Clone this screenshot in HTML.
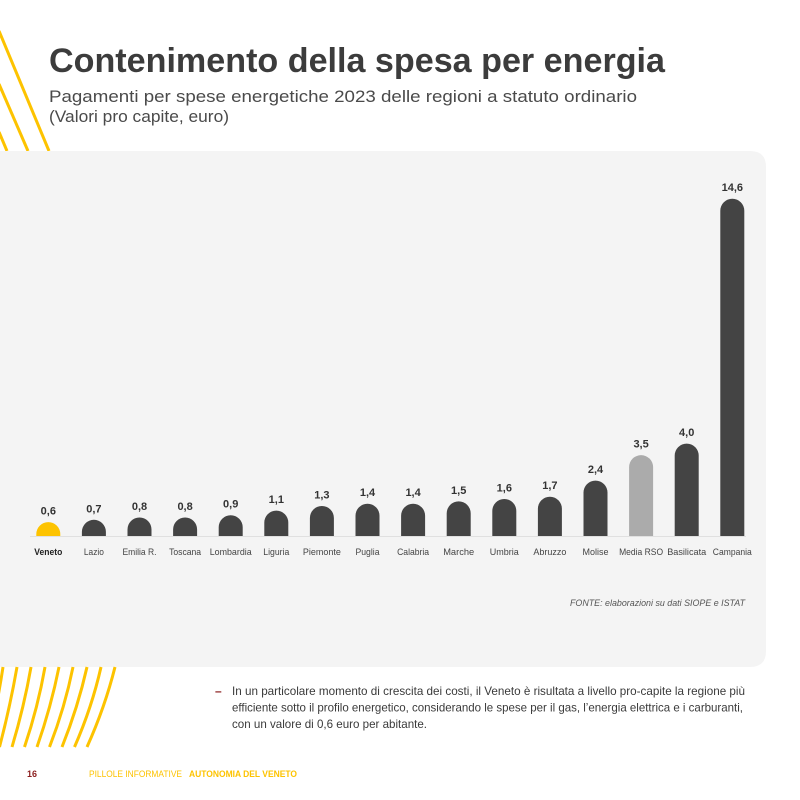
<!DOCTYPE html>
<html><head><meta charset="utf-8">
<style>
html,body{margin:0;padding:0;background:#fff;}
svg{display:block;}
text{font-family:"Liberation Sans",sans-serif;}
</style></head>
<body>
<svg width="800" height="800" viewBox="0 0 800 800" xmlns="http://www.w3.org/2000/svg">
<rect width="800" height="800" fill="#fff"/>
<!-- top-left stripes -->
<g stroke="#FDC300" stroke-width="3" fill="none">
<line x1="-1" y1="31" x2="49" y2="151"/>
<line x1="-1" y1="84" x2="28" y2="151"/>
<line x1="-1" y1="132" x2="7" y2="151"/>
</g>
<!-- panel -->
<path d="M0,151 H750 Q766,151 766,167 V651 Q766,667 750,667 H0 Z" fill="#F4F4F4"/>
<!-- bottom-left stripes -->
<g stroke="#FDC300" stroke-width="3" fill="none">
<path d="M3,667 Q-3,707 -13,747"/>
<path d="M17,667 Q10,707 -0.5,747"/>
<path d="M31,667 Q24,707 12,747"/>
<path d="M45,667 Q38,707 24.5,747"/>
<path d="M59,667 Q51,707 37,747"/>
<path d="M73,667 Q65,707 49.5,747"/>
<path d="M87,667 Q78,707 62,747"/>
<path d="M101,667 Q92,707 74.5,747"/>
<path d="M115,667 Q105,707 87,747"/>
</g>
<!-- title -->
<text x="49" y="72" font-size="34" font-weight="bold" fill="#3C3C3C" textLength="616" lengthAdjust="spacingAndGlyphs">Contenimento della spesa per energia</text>
<text x="49" y="102" font-size="17" fill="#4A4A4A" textLength="588" lengthAdjust="spacingAndGlyphs">Pagamenti per spese energetiche 2023 delle regioni a statuto ordinario</text>
<text x="49" y="122" font-size="17" fill="#4A4A4A" textLength="180" lengthAdjust="spacingAndGlyphs">(Valori pro capite, euro)</text>
<!-- axis -->
<line x1="30" y1="536.5" x2="746" y2="536.5" stroke="#E0E0E0" stroke-width="1"/>
<!-- bars -->
<g fill="#444444">
<path d="M36.3,536 V534.1 A12,12 0 0 1 60.3,534.1 V536 Z" fill="#FDC300"/>
<path d="M81.9,536 V531.8 A12,12 0 0 1 105.9,531.8 V536 Z"/>
<path d="M127.5,536 V529.5 A12,12 0 0 1 151.5,529.5 V536 Z"/>
<path d="M173.1,536 V529.5 A12,12 0 0 1 197.1,529.5 V536 Z"/>
<path d="M218.7,536 V527.2 A12,12 0 0 1 242.7,527.2 V536 Z"/>
<path d="M264.3,536 V522.6 A12,12 0 0 1 288.3,522.6 V536 Z"/>
<path d="M309.9,536 V518 A12,12 0 0 1 333.9,518 V536 Z"/>
<path d="M355.5,536 V515.7 A12,12 0 0 1 379.5,515.7 V536 Z"/>
<path d="M401.1,536 V515.7 A12,12 0 0 1 425.1,515.7 V536 Z"/>
<path d="M446.7,536 V513.35 A12,12 0 0 1 470.7,513.35 V536 Z"/>
<path d="M492.3,536 V511 A12,12 0 0 1 516.3,511 V536 Z"/>
<path d="M537.9,536 V508.7 A12,12 0 0 1 561.9,508.7 V536 Z"/>
<path d="M583.5,536 V492.6 A12,12 0 0 1 607.5,492.6 V536 Z"/>
<path d="M629.1,536 V467.15 A12,12 0 0 1 653.1,467.15 V536 Z" fill="#ABABAB"/>
<path d="M674.7,536 V455.6 A12,12 0 0 1 698.7,455.6 V536 Z"/>
<path d="M720.3,536 V210.7 A12,12 0 0 1 744.3,210.7 V536 Z"/>
</g>
<!-- value labels -->
<g font-size="11" font-weight="bold" fill="#333" text-anchor="middle">
<text x="48.3" y="514.6">0,6</text>
<text x="93.9" y="512.3">0,7</text>
<text x="139.5" y="510">0,8</text>
<text x="185.1" y="510">0,8</text>
<text x="230.7" y="507.7">0,9</text>
<text x="276.3" y="503.1">1,1</text>
<text x="321.9" y="498.5">1,3</text>
<text x="367.5" y="496.2">1,4</text>
<text x="413.1" y="496.2">1,4</text>
<text x="458.7" y="493.85">1,5</text>
<text x="504.3" y="491.5">1,6</text>
<text x="549.9" y="489.2">1,7</text>
<text x="595.5" y="473.1">2,4</text>
<text x="641.1" y="447.65">3,5</text>
<text x="686.7" y="436.1">4,0</text>
<text x="732.3" y="191.2">14,6</text>
</g>
<!-- category labels -->
<g font-size="9.5" fill="#444" text-anchor="middle">
<text x="48.3" y="555" font-weight="bold" fill="#222" textLength="28" lengthAdjust="spacingAndGlyphs">Veneto</text>
<text x="93.9" y="555" textLength="20" lengthAdjust="spacingAndGlyphs">Lazio</text>
<text x="139.5" y="555" textLength="34" lengthAdjust="spacingAndGlyphs">Emilia R.</text>
<text x="185.1" y="555" textLength="32" lengthAdjust="spacingAndGlyphs">Toscana</text>
<text x="230.7" y="555" textLength="42" lengthAdjust="spacingAndGlyphs">Lombardia</text>
<text x="276.3" y="555" textLength="26" lengthAdjust="spacingAndGlyphs">Liguria</text>
<text x="321.9" y="555" textLength="38" lengthAdjust="spacingAndGlyphs">Piemonte</text>
<text x="367.5" y="555" textLength="24" lengthAdjust="spacingAndGlyphs">Puglia</text>
<text x="413.1" y="555" textLength="32" lengthAdjust="spacingAndGlyphs">Calabria</text>
<text x="458.7" y="555" textLength="31" lengthAdjust="spacingAndGlyphs">Marche</text>
<text x="504.3" y="555" textLength="29" lengthAdjust="spacingAndGlyphs">Umbria</text>
<text x="549.9" y="555" textLength="33" lengthAdjust="spacingAndGlyphs">Abruzzo</text>
<text x="595.5" y="555" textLength="26" lengthAdjust="spacingAndGlyphs">Molise</text>
<text x="641.1" y="555" textLength="44" lengthAdjust="spacingAndGlyphs">Media RSO</text>
<text x="686.7" y="555" textLength="39" lengthAdjust="spacingAndGlyphs">Basilicata</text>
<text x="732.3" y="555" textLength="39" lengthAdjust="spacingAndGlyphs">Campania</text>
</g>
<!-- source -->
<text x="570" y="606" font-size="9.5" font-style="italic" fill="#555" textLength="175" lengthAdjust="spacingAndGlyphs">FONTE: elaborazioni su dati SIOPE  e ISTAT</text>
<!-- paragraph -->
<text x="215" y="695" font-size="12" font-weight="bold" fill="#8B1E1E">–</text>
<g font-size="12" fill="#3A3A3A">
<text x="232" y="695" textLength="513" lengthAdjust="spacingAndGlyphs">In un particolare momento di crescita dei costi, il Veneto è risultata a livello pro-capite la regione più</text>
<text x="232" y="711.5" textLength="511" lengthAdjust="spacingAndGlyphs">efficiente sotto il profilo energetico, considerando le spese per il gas, l’energia elettrica e i carburanti,</text>
<text x="232" y="728" textLength="195" lengthAdjust="spacingAndGlyphs">con un valore di 0,6 euro per abitante.</text>
</g>
<!-- footer -->
<text x="27" y="777" font-size="9" font-weight="bold" fill="#8B1E1E" textLength="10" lengthAdjust="spacingAndGlyphs">16</text>
<text x="89" y="777" font-size="9" fill="#FDC300" textLength="93" lengthAdjust="spacingAndGlyphs">PILLOLE INFORMATIVE</text>
<text x="189" y="777" font-size="9" font-weight="bold" fill="#FDC300" textLength="108" lengthAdjust="spacingAndGlyphs">AUTONOMIA DEL VENETO</text>
</svg>
</body></html>
